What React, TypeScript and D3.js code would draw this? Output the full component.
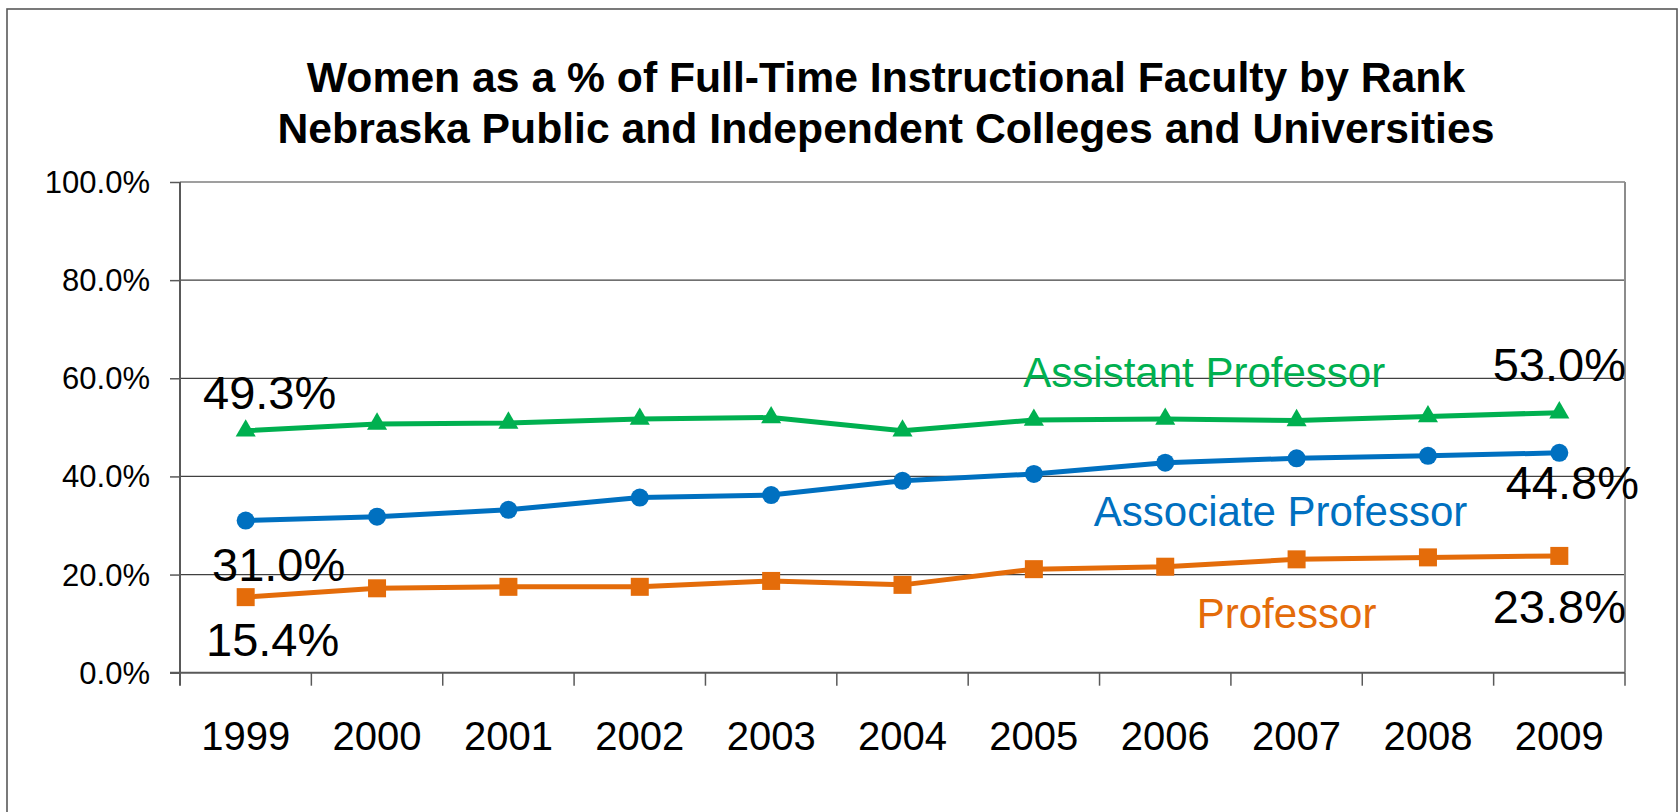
import { useEffect, useRef } from "react";
import * as d3 from "d3";

const years = ["1999", "2000", "2001", "2002", "2003", "2004", "2005", "2006", "2007", "2008", "2009"];
const assistant = [49.3, 50.7, 50.9, 51.7, 52.0, 49.3, 51.5, 51.7, 51.4, 52.2, 53.0];
const associate = [31.0, 31.8, 33.2, 35.7, 36.2, 39.1, 40.5, 42.8, 43.7, 44.2, 44.8];
const professor = [15.4, 17.2, 17.5, 17.5, 18.7, 17.9, 21.1, 21.6, 23.1, 23.5, 23.8];
const yTicks = [0, 20, 40, 60, 80, 100];
const titleLines = [
  "Women as a % of Full-Time Instructional Faculty by Rank",
  "Nebraska Public and Independent Colleges and Universities",
];

const FONT = "'Liberation Sans', Arial, sans-serif";

type Series = {
  name: string;
  values: number[];
  color: string;
  marker: "triangle" | "circle" | "square";
  // where the series name goes, relative to a given point
  nameAt: { i: number; dx: number; dy: number };
  // offsets for first / last value labels
  firstLabel: { dx: number; dy: number };
  lastLabel: { dx: number; dy: number };
};

const series: Series[] = [
  {
    name: "Assistant Professor",
    values: assistant,
    color: "#00b050",
    marker: "triangle",
    nameAt: { i: 7, dx: 39, dy: -32 },
    firstLabel: { dx: 24, dy: -22 },
    lastLabel: { dx: 0, dy: -32 },
  },
  {
    name: "Associate Professor",
    values: associate,
    color: "#0070c0",
    marker: "circle",
    nameAt: { i: 8, dx: -16, dy: 68 },
    firstLabel: { dx: 33, dy: 60 },
    lastLabel: { dx: 13, dy: 46 },
  },
  {
    name: "Professor",
    values: professor,
    color: "#e46c0a",
    marker: "square",
    nameAt: { i: 8, dx: -10, dy: 69 },
    firstLabel: { dx: 27, dy: 59 },
    lastLabel: { dx: 0, dy: 67 },
  },
];

export default function App() {
  const svgRef = useRef<SVGSVGElement>(null);

  useEffect(() => {
    const width = 1678;
    const height = 812;
    const left = 180;
    const right = 1625;
    const top = 182;
    const bottom = 672.7;

    const svg = d3.select(svgRef.current).attr("width", width).attr("height", height);
    svg.selectAll("*").remove();

    svg.append("rect").attr("width", width).attr("height", height).attr("fill", "#fff");

    // outer frame
    svg
      .append("rect")
      .attr("x", 7)
      .attr("y", 9)
      .attr("width", 1670)
      .attr("height", 840)
      .attr("fill", "none")
      .attr("stroke", "#595959")
      .attr("stroke-width", 1.6);

    // title
    svg
      .append("g")
      .selectAll("text")
      .data(titleLines)
      .join("text")
      .attr("x", 886)
      .attr("y", (d, i) => 92 + i * 51)
      .attr("text-anchor", "middle")
      .attr("font-family", FONT)
      .attr("font-weight", "bold")
      .attr("font-size", 42.7)
      .attr("fill", "#000")
      .text((d) => d);

    const xScale = d3.scaleBand<string>().domain(years).range([left, right]);
    const yScale = d3.scaleLinear().domain([0, 100]).range([bottom, top]);
    const cx = (i: number) => (xScale(years[i]) as number) + xScale.bandwidth() / 2;

    // grid lines
    svg
      .append("g")
      .selectAll("line")
      .data(yTicks.filter((t) => t > 0))
      .join("line")
      .attr("x1", left)
      .attr("x2", right)
      .attr("y1", (d) => yScale(d))
      .attr("y2", (d) => yScale(d))
      .attr("stroke", "#404040")
      .attr("stroke-width", 1.2);

    // right border of plot
    svg
      .append("line")
      .attr("x1", right)
      .attr("x2", right)
      .attr("y1", top)
      .attr("y2", bottom)
      .attr("stroke", "#8c8c8c")
      .attr("stroke-width", 2);

    // y axis
    const yAxis = d3
      .axisLeft(yScale)
      .tickValues(yTicks)
      .tickSize(10)
      .tickPadding(20)
      .tickFormat((d) => (d as number).toFixed(1) + "%");
    const yg = svg.append("g").attr("transform", `translate(${left},0)`).call(yAxis);
    yg.select(".domain").remove();
    yg.selectAll(".tick line").attr("stroke", "#595959").attr("stroke-width", 1.5);
    yg.selectAll(".tick text")
      .attr("font-family", FONT)
      .attr("font-size", 31)
      .attr("fill", "#000")
      .attr("dy", "0.34em");
    svg
      .append("line")
      .attr("x1", left)
      .attr("x2", left)
      .attr("y1", top)
      .attr("y2", bottom + 13)
      .attr("stroke", "#595959")
      .attr("stroke-width", 2);

    // x axis: baseline, ticks at band edges, labels in the bands
    svg
      .append("line")
      .attr("x1", left - 10)
      .attr("x2", right)
      .attr("y1", bottom)
      .attr("y2", bottom)
      .attr("stroke", "#595959")
      .attr("stroke-width", 2);
    const edges = years.map((y) => xScale(y) as number).concat([right]);
    svg
      .append("g")
      .selectAll("line")
      .data(edges.slice(1))
      .join("line")
      .attr("x1", (d) => d)
      .attr("x2", (d) => d)
      .attr("y1", bottom)
      .attr("y2", bottom + 13)
      .attr("stroke", "#595959")
      .attr("stroke-width", 1.5);
    svg
      .append("g")
      .selectAll("text")
      .data(years)
      .join("text")
      .attr("x", (d, i) => cx(i))
      .attr("y", 750)
      .attr("text-anchor", "middle")
      .attr("font-family", FONT)
      .attr("font-size", 40)
      .attr("fill", "#000")
      .text((d) => d);

    const lineGenerator = d3
      .line<number>()
      .x((d, i) => cx(i))
      .y((d) => yScale(d));

    const triangle = d3.symbol().type(d3.symbolTriangle).size(175);

    series.forEach((s) => {
      svg
        .append("path")
        .datum(s.values)
        .attr("d", lineGenerator)
        .attr("fill", "none")
        .attr("stroke", s.color)
        .attr("stroke-width", 5)
        .attr("stroke-linejoin", "round");

      const g = svg.append("g").attr("fill", s.color);
      if (s.marker === "circle") {
        g.selectAll("circle")
          .data(s.values)
          .join("circle")
          .attr("cx", (d, i) => cx(i))
          .attr("cy", (d) => yScale(d))
          .attr("r", 9);
      } else if (s.marker === "square") {
        g.selectAll("rect")
          .data(s.values)
          .join("rect")
          .attr("x", (d, i) => cx(i) - 9)
          .attr("y", (d) => yScale(d) - 9)
          .attr("width", 18)
          .attr("height", 18);
      } else {
        g.selectAll("path")
          .data(s.values)
          .join("path")
          .attr("d", triangle)
          .attr("transform", (d, i) => `translate(${cx(i)},${yScale(d)})`);
      }

      // series name
      svg
        .append("text")
        .attr("x", cx(s.nameAt.i) + s.nameAt.dx)
        .attr("y", yScale(s.values[s.nameAt.i]) + s.nameAt.dy)
        .attr("text-anchor", "middle")
        .attr("font-family", FONT)
        .attr("font-size", 42)
        .attr("fill", s.color)
        .text(s.name);

      // first and last value labels
      const last = s.values.length - 1;
      [
        { i: 0, off: s.firstLabel },
        { i: last, off: s.lastLabel },
      ].forEach(({ i, off }) => {
        svg
          .append("text")
          .attr("x", cx(i) + off.dx)
          .attr("y", yScale(s.values[i]) + off.dy)
          .attr("text-anchor", "middle")
          .attr("font-family", FONT)
          .attr("font-size", 47)
          .attr("fill", "#000")
          .text(s.values[i].toFixed(1) + "%");
      });
    });
  }, []);

  return (
    <div style={{ position: "absolute", left: 0, top: 0 }}>
      <svg ref={svgRef} style={{ display: "block" }}></svg>
    </div>
  );
}
